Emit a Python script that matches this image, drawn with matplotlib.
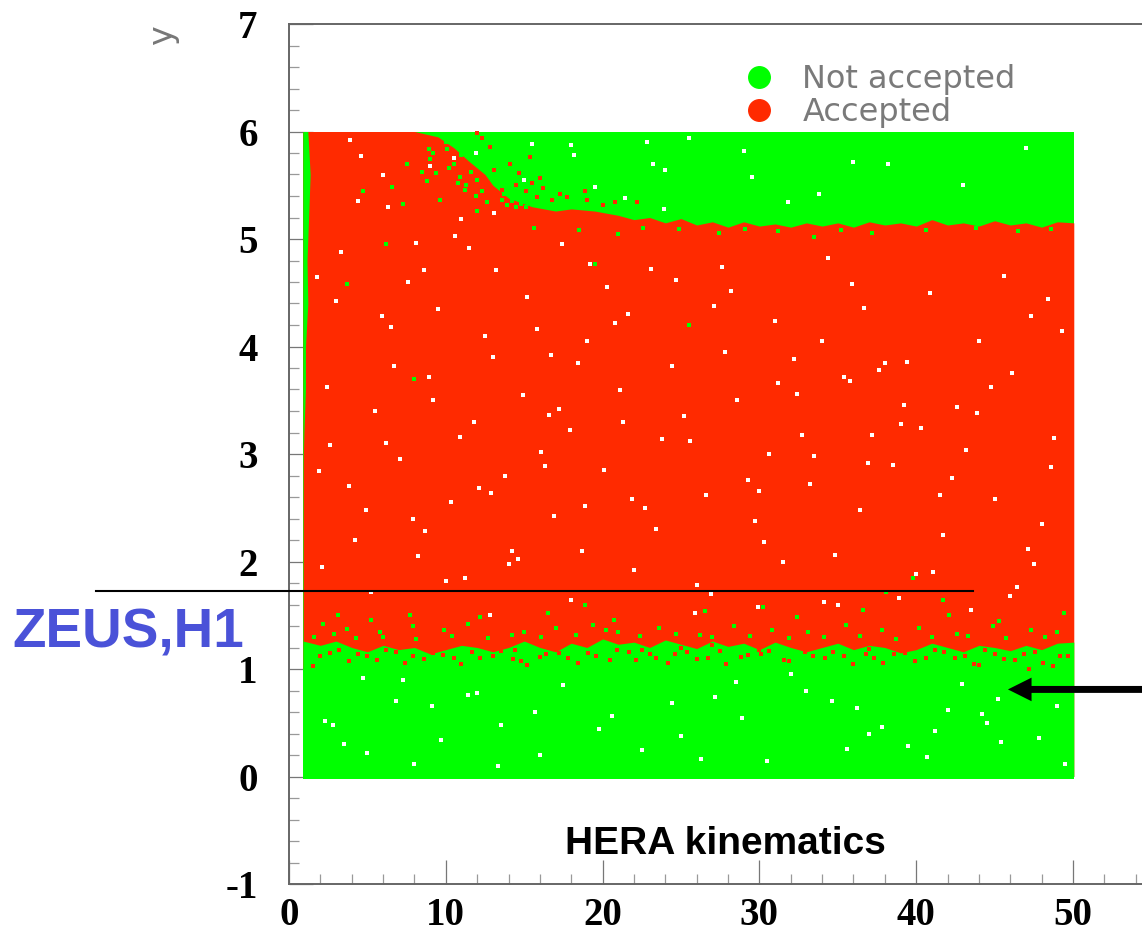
import matplotlib
matplotlib.use("Agg")
import matplotlib.pyplot as plt
from matplotlib.lines import Line2D
from matplotlib.ticker import MultipleLocator

GREEN = "#00ff00"
RED = "#ff2a00"

# Extent of the simulated points
x_min, x_max = 0.9, 50.05
y_min, y_max = -0.02, 6.0

# Upper edge of the accepted band
upper_x = [0.9, 4, 8, 9.5, 10.5, 11.5, 12.5, 13, 14, 15.5, 17, 18, 19.5, 21, 22, 23, 24, 25, 26, 27, 28, 29, 30, 31, 32,
           33, 34, 35, 36, 37, 38, 39, 40, 41, 42, 43, 44, 45, 46, 47, 48, 49, 50.05]
upper_y = [6.0, 6.0, 6.0, 5.95, 5.85, 5.72, 5.6, 5.5, 5.38, 5.3, 5.26, 5.28, 5.26, 5.22, 5.18, 5.2, 5.15, 5.19, 5.13, 5.16, 5.11,
           5.16, 5.12, 5.14, 5.11, 5.15, 5.12, 5.15, 5.11, 5.16, 5.13, 5.15, 5.12, 5.18, 5.13, 5.15, 5.12, 5.17, 5.13, 5.15, 5.11, 5.16, 5.15]
# Lower edge of the accepted band
lower_x = [0.9, 2, 3, 4, 5, 6, 7, 8, 9, 10, 11, 12, 13, 14, 15, 16, 17, 18, 19, 20, 21, 22, 23, 24, 25, 26, 27, 28, 29, 30, 31,
           32, 33, 34, 35, 36, 37, 38, 39, 40, 41, 42, 43, 44, 45, 46, 47, 48, 49, 50.05]
lower_y = [1.26, 1.22, 1.26, 1.2, 1.16, 1.22, 1.18, 1.2, 1.14, 1.18, 1.22, 1.2, 1.16, 1.2, 1.26, 1.2, 1.16, 1.24, 1.2, 1.28, 1.23, 1.25, 1.2, 1.27, 1.23, 1.19,
           1.26, 1.21, 1.24, 1.18, 1.25, 1.2, 1.16, 1.2, 1.24, 1.18, 1.22, 1.2, 1.15, 1.18, 1.24, 1.2, 1.16, 1.22, 1.2, 1.17, 1.22, 1.18, 1.24, 1.25]
# Band of unaccepted points on the left edge
strip_y = [6.0, 5.6, 5.2, 4.8, 4.4, 4.0, 3.6, 3.2, 2.9]
strip_x = [1.2, 1.35, 1.25, 1.15, 1.2, 1.05, 1.05, 0.95, 0.9]

# Individually read isolated points
red_x = [12.0, 12.3, 12.8, 13.1, 14.1, 14.7, 15.4, 16.0, 14.5, 15.5, 15.1, 16.2, 15.8, 17.3, 17.7, 18.9, 20.8,
         22.2, 13.6, 16.8, 19.0, 20.0, 2.0, 3.2, 4.4, 5.6, 6.8, 7.9, 9.2, 10.5, 11.7, 13.0, 14.3, 15.2, 16.4,
         17.8, 19.1, 20.5, 21.7, 23.4, 24.6, 26.0, 27.5, 28.8, 30.1, 31.6, 32.9, 34.2, 35.4, 36.8, 37.9, 39.3,
         40.6, 41.8, 43.1, 44.4, 45.6, 46.9, 48.1, 49.2, 30.0, 44.0, 47.2, 14.4, 33.0, 37.0, 27.0, 25.0, 22.5,
         1.5, 2.6, 3.8, 5.0, 6.2, 7.4, 8.6, 9.8, 11.0, 12.2, 13.5, 14.8, 16.0, 17.2, 18.4, 19.6, 20.9, 22.1, 23.0,
         24.2, 25.4, 26.7, 27.9, 29.3, 30.6, 31.9, 33.4, 34.7, 36.0, 37.3, 38.6, 39.9, 41.2, 42.5, 43.7, 45.0, 46.3,
         47.6, 48.7, 49.7]
red_y = [5.99, 5.94, 5.86, 5.64, 5.70, 5.61, 5.76, 5.57, 5.50, 5.52, 5.45, 5.47, 5.39, 5.42, 5.39, 5.45, 5.34,
         5.34, 5.46, 5.36, 5.36, 5.32, 1.12, 1.18, 1.14, 1.08, 1.16, 1.12, 1.15, 1.10, 1.16, 1.12, 1.09, 1.04,
         1.14, 1.10, 1.15, 1.08, 1.16, 1.10, 1.14, 1.09, 1.17, 1.11, 1.14, 1.08, 1.16, 1.10, 1.12, 1.14, 1.06,
         1.15, 1.10, 1.16, 1.12, 1.18, 1.09, 1.14, 1.06, 1.12, 1.18, 1.04, 1.00, 1.18, 1.20, 1.19, 1.22, 1.20, 1.18,
         1.03, 1.15, 1.07, 1.12, 1.18, 1.06, 1.09, 1.13, 1.05, 1.10, 1.17, 1.07, 1.11, 1.15, 1.06, 1.12, 1.18, 1.08, 1.14,
         1.06, 1.16, 1.10, 1.05, 1.13, 1.17, 1.07, 1.12, 1.16, 1.05, 1.10, 1.14, 1.07, 1.18, 1.10, 1.05, 1.14, 1.08,
         1.16, 1.03, 1.12]
green_x = [10.1, 10.5, 9.4, 8.8, 7.5, 7.3, 9.6, 12.0, 11.2, 10.8, 11.9, 8.5, 6.6, 9.0, 10.0, 11.0, 12.6, 4.7,
           2.2, 3.7, 5.8, 7.9, 9.9, 11.4, 14.2, 17.0, 19.4, 21.0, 23.6, 26.2, 28.4, 30.8, 33.1, 35.5, 37.8, 40.2,
           42.6, 44.9, 47.3, 49.0, 1.6, 2.9, 4.3, 6.0, 8.1, 10.4, 12.7, 15.0, 16.1, 18.3, 20.2, 22.4, 24.7, 27.0,
           29.4, 31.9, 34.1, 36.4, 38.7, 41.0, 43.3, 45.7, 48.2, 19.5, 3.7, 39.8, 21.0, 33.5, 6.2, 25.5, 8.0,
           13.6, 13.9, 14.2, 14.5, 14.8, 15.1, 13.7, 14.1, 14.6, 15.0, 12.3, 12.0, 11.6, 10.2, 9.2, 8.9, 10.9, 11.3,
           15.6, 18.5, 22.6, 24.9, 27.4, 29.1, 31.2, 35.2, 37.2, 40.6, 43.8, 46.5, 48.6,
           5.2, 7.7, 12.2, 16.5, 20.7, 26.5, 32.4, 36.6, 42.1, 45.3, 49.4, 3.1, 18.9, 30.2, 38.1, 41.7]
green_y = [5.84, 5.70, 5.61, 5.54, 5.70, 5.33, 5.36, 5.26, 5.46, 5.52, 5.40, 5.62, 5.48, 5.74, 5.90, 5.78, 5.34, 5.45,
           1.42, 1.37, 1.34, 1.40, 1.36, 1.42, 1.32, 1.38, 1.41, 1.34, 1.38, 1.32, 1.40, 1.36, 1.34, 1.41, 1.36, 1.38,
           1.33, 1.40, 1.36, 1.34, 1.30, 1.33, 1.29, 1.30, 1.28, 1.31, 1.29, 1.34, 1.30, 1.32, 1.36, 1.31, 1.33, 1.30,
           1.31, 1.29, 1.30, 1.31, 1.28, 1.30, 1.31, 1.29, 1.30, 4.77, 4.58, 1.85, 5.05, 5.02, 4.95, 4.2, 3.7,
           5.36, 5.32, 5.35, 5.30, 5.33, 5.30, 5.42, 5.44, 5.38, 5.36, 5.45, 5.55, 5.62, 5.66, 5.80, 5.84, 5.58, 5.50,
           5.10, 5.08, 5.10, 5.09, 5.06, 5.09, 5.07, 5.08, 5.06, 5.08, 5.10, 5.07, 5.09,
           1.46, 1.50, 1.48, 1.52, 1.46, 1.54, 1.48, 1.55, 1.50, 1.45, 1.52, 1.50, 1.60, 1.58, 1.72, 1.64]
white_x = [4.6, 4.4, 11.0, 13.1, 10.6, 8.1, 8.6, 13.2, 19.2, 20.3, 23.2, 18.0, 22.8, 23.9, 30.0, 16.3, 16.7, 45.2,
           3.0, 6.5, 9.5, 12.5, 15.2, 18.4, 21.6, 24.7, 27.8, 31.0, 34.4, 37.6, 40.9, 44.0, 47.3, 2.4, 5.5, 8.9,
           11.8, 14.9, 17.9, 21.1, 25.2, 28.6, 32.7, 35.8, 39.0, 42.6, 46.1, 48.8, 3.8, 7.1, 10.3, 13.8, 16.9, 20.1,
           23.4, 26.6, 29.7, 33.2, 36.4, 38.5, 41.7, 45.0, 48.0, 2.1, 5.2, 8.2, 11.2, 14.2, 18.0, 22.0, 26.0, 31.5,
           35.0, 40.0, 43.5, 47.5, 4.7, 9.1, 13.5, 17.5, 22.5, 27.2, 32.0, 37.0, 42.0, 46.8, 3.5, 8.0, 12.0, 16.0,
           20.6, 25.0, 30.5, 34.6, 39.5, 44.5, 49.0, 6.0, 10.5, 15.5, 19.5, 24.0, 29.0, 33.8, 38.2, 43.0, 47.0, 28.5,
           36.2, 41.2, 44.2, 47.8, 30.6, 17.4, 12.8, 2.8, 6.8, 34.0, 35.4, 38.0,
           1.8, 3.3, 5.9, 7.6, 9.2, 11.5, 13.0, 15.8, 17.2, 19.0, 21.3, 23.1, 25.6, 27.1, 29.3, 31.2, 33.5, 35.9, 37.2, 39.4,
           41.5, 43.2, 45.6, 47.1, 49.3, 2.6, 4.9, 6.7, 8.7, 10.9, 12.9, 14.6, 16.1, 18.7, 20.8, 22.7, 24.4, 26.9, 28.2, 30.3,
           32.4, 34.8, 36.7, 38.9, 40.3, 42.3, 44.8, 46.4, 48.4, 1.9, 4.2, 6.2, 7.9, 10.0, 12.1, 14.0, 16.6, 18.9, 21.9, 23.8,
           25.9, 27.6, 29.9, 32.2, 34.1, 36.9, 39.2, 41.1, 43.9, 46.0, 48.6, 2.3, 5.0, 7.3, 9.7, 11.4, 13.3, 15.7, 19.8, 24.4,
           26.3, 28.9, 33.0, 35.6, 37.8, 40.7, 42.9, 45.4, 49.5, 3.9, 6.3, 9.0, 11.9, 15.0, 18.2, 21.4, 25.5, 29.5, 31.8, 36.0]
white_y = [5.77, 5.35, 5.19, 5.24, 5.03, 4.96, 4.71, 4.71, 4.77, 4.55, 5.70, 5.87, 5.90, 5.28, 2.66, 2.89, 3.92, 0.72,
           4.42, 4.18, 4.35, 4.10, 4.46, 3.85, 4.30, 4.62, 3.95, 4.24, 4.82, 3.78, 4.50, 4.05, 4.28, 3.62, 3.40, 3.72,
           3.30, 3.55, 3.22, 3.60, 3.35, 3.50, 3.18, 3.68, 3.28, 3.44, 3.75, 3.15, 2.70, 2.95, 2.55, 2.80, 2.42, 2.85,
           2.30, 2.62, 2.38, 2.72, 2.48, 2.90, 2.25, 2.58, 2.35, 1.95, 1.72, 2.05, 1.85, 2.10, 1.64, 1.92, 1.78, 2.00,
           1.60, 1.88, 1.55, 1.98, 0.92, 0.66, 0.48, 0.85, 0.25, 0.74, 0.95, 0.40, 0.62, 0.82, 0.30, 0.12, 0.78, 0.20,
           0.56, 0.38, 0.14, 0.70, 0.28, 0.50, 0.66, 5.60, 5.75, 5.88, 5.48, 5.64, 5.82, 5.42, 5.70, 5.50, 5.85, 0.88,
           0.64, 0.42, 0.58, 0.36, 3.0, 4.95, 1.50, 0.48, 0.70, 4.05, 3.72, 3.85,
           4.65, 4.88, 4.28, 4.60, 3.50, 4.92, 3.90, 4.16, 3.42, 4.05, 3.30, 4.72, 3.12, 4.38, 2.76, 3.66, 2.98, 4.58, 3.18, 3.86,
           2.62, 3.04, 4.66, 2.12, 4.14, 3.08, 2.48, 3.82, 2.28, 3.16, 2.64, 2.02, 3.02, 2.10, 4.22, 2.50, 3.82, 1.70, 4.52, 2.18,
           3.56, 2.06, 4.36, 1.66, 3.24, 2.78, 3.62, 1.76, 4.44, 2.84, 2.20, 3.10, 2.40, 1.82, 2.68, 1.98, 3.36, 2.52, 2.58, 3.14,
           1.52, 4.74, 1.58, 3.88, 1.62, 2.92, 3.46, 1.90, 3.38, 1.68, 2.88, 0.52, 0.22, 0.90, 0.34, 0.76, 0.10, 0.60, 0.44, 0.68,
           0.16, 0.54, 0.80, 0.26, 0.46, 0.18, 0.86, 0.32, 0.12, 5.92, 5.30, 5.68, 5.80, 5.55, 5.78, 5.38, 5.94, 5.58, 5.34, 5.72]

x_ticks = [0, 10, 20, 30, 40, 50]
y_ticks = [-1, 0, 1, 2, 3, 4, 5, 6, 7]
y_tick_labels = ["-1", "0", "1", "2", "3", "4", "5", "6", "7"]
legend_labels = ["Not accepted", "Accepted"]

W, H = 1142, 930
fig = plt.figure(figsize=(W / 100, H / 100), dpi=100, facecolor="white")
L, R, T, B = 289, 1142, 24, 884
ax = fig.add_axes([L / W, 1 - B / H, (R - L) / W, (B - T) / H])
ax.set_xlim(0, (R - L) / 15.68)
ax.set_ylim(-1, 7)

# Scatter regions
ax.fill_between([x_min, x_max], y_min, y_max, color=GREEN, lw=0, zorder=1)
ax.fill_between(upper_x, upper_y, color=RED, lw=0, zorder=2)
ax.fill_between(lower_x, lower_y, color=GREEN, lw=0, zorder=3)
ax.fill_between([x_min, x_max], y_min, 1.0, color=GREEN, lw=0, zorder=3)
ax.fill_betweenx(strip_y, x_min, strip_x, color=GREEN, lw=0, zorder=3)
ax.scatter(red_x, red_y, s=9, marker="s", color=RED, lw=0, zorder=4)
ax.scatter(green_x, green_y, s=6, marker="s", color=GREEN, lw=0, zorder=4)
ax.scatter(white_x, white_y, s=5, marker="s", color="white", lw=0, zorder=5)

# Axis styling
for side in ("right", "bottom", "left", "top"):
    ax.spines[side].set_color("#666666")
    ax.spines[side].set_linewidth(1.4)
ax.spines["right"].set_visible(False)
ax.set_xticks(x_ticks)
ax.set_yticks(y_ticks)
ax.set_yticklabels(y_tick_labels)
ax.xaxis.set_minor_locator(MultipleLocator(2))
ax.yaxis.set_minor_locator(MultipleLocator(0.2))
ax.tick_params(which="major", direction="in", length=17, width=0.9, color="#777777", zorder=0)
ax.tick_params(which="minor", direction="in", length=7.5, width=0.9, color="#999999")
ax.tick_params(axis="x", pad=9)
ax.tick_params(axis="y", pad=22.5)
for lab in ax.get_xticklabels() + ax.get_yticklabels():
    lab.set_fontfamily("Liberation Serif")
    lab.set_fontweight("bold")
    lab.set_fontsize(28)
    lab.set_color("black")

ax.set_axisbelow(True)
fig.text(163 / W, 1 - 35 / H, "y", rotation=90, color="#777777", fontsize=24,
         family="DejaVu Sans", ha="center", va="center")

handles = [Line2D([], [], ls="", marker="o", ms=15.5, mfc=GREEN, mec=GREEN),
           Line2D([], [], ls="", marker="o", ms=15.5, mfc=RED, mec=RED)]
ax.legend(handles, legend_labels, frameon=False, loc="upper left",
          bbox_to_anchor=(737 / W, 1 - 64 / H), bbox_transform=fig.transFigure,
          prop={"family": "DejaVu Sans", "size": 23}, labelcolor="#7a7a7a",
          borderpad=0, borderaxespad=0, labelspacing=0.07, handletextpad=0.65, handlelength=1.4)

# Overlaid annotation line, arrow and labels
ax.plot([-12.3, 43.64], [1.73, 1.73], color="black", lw=1.5, clip_on=False, zorder=6)
ax.annotate("", xy=(45.85, 0.81), xytext=(54.5, 0.81), zorder=7,
            arrowprops=dict(facecolor="black", edgecolor="black", width=5, headwidth=17, headlength=17, shrink=0, lw=0))
fig.text(12 / W, 1 - 648 / H, "ZEUS,H1", color="#4a52d8", fontsize=39.5, family="Liberation Sans",
         fontweight="bold", ha="left", va="baseline")
fig.text(725 / W, 1 - 854 / H, "HERA kinematics", color="black", fontsize=28, family="Liberation Sans",
         fontweight="bold", ha="center", va="baseline")

fig.savefig("out.png", dpi=100)
